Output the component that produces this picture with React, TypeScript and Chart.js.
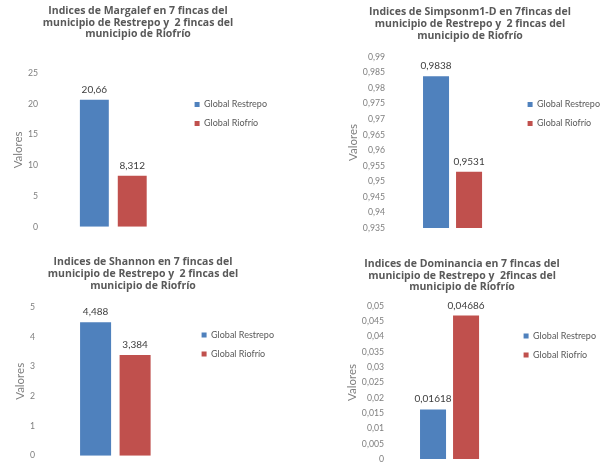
import React, { useEffect, useRef } from 'react';
import { Chart, registerables } from 'chart.js';

Chart.register(...registerables);

// ---------- data ----------
const seriesNames = ['Global Restrepo', 'Global Riofrío'];
const seriesColors = ['#4F81BD', '#C0504D'];
const yAxisTitle = 'Valores';

const margalefTitle = ['Indices de Margalef en 7 fincas del', 'municipio de Restrepo y  2 fincas del', 'municipio de Riofrío'];
const margalefValues = [20.66, 8.312];
const margalefTicks = [0, 25, 5]; // min, max, step

const simpsonTitle = ['Indices de Simpsonm1-D en 7fincas del', 'municipio de Restrepo y  2 fincas del', 'municipio de Riofrío'];
const simpsonValues = [0.9838, 0.9531];
const simpsonTicks = [0.935, 0.99, 0.005];

const shannonTitle = ['Indices de Shannon en 7 fincas del', 'municipio de Restrepo y  2 fincas del', 'municipio de Riofrío'];
const shannonValues = [4.488, 3.384];
const shannonTicks = [0, 5, 1];

const dominanciaTitle = ['Indices de Dominancia en 7 fincas del', 'municipio de Restrepo y  2fincas del', 'municipio de Riofrío'];
const dominanciaValues = [0.01618, 0.04686];
const dominanciaTicks = [0, 0.05, 0.005];

// ---------- layout targets (page px) ----------
const FONT = 'Lato';
const TITLE_FONT = 'Open Sans';
const titleSize = 10.5;
const titleLH = 1.105;
const legendSize = 9;
const tickSize = 8.7;
const valoresSize = 11.5;
const labelSize = 10;
const boxW = 5;

const panels = [
  { title: margalefTitle, values: margalefValues, ticks: margalefTicks, T: 138, barCenter: 113.5, slot: 38, barW: 29, textStart: 204.5, tickRight: 38, valX: 18, line1: 11, top: 73, bottom: 228, regionTop: 0 },
  { title: simpsonTitle, values: simpsonValues, ticks: simpsonTicks, T: 470, barCenter: 452.5, slot: 33, barW: 26, textStart: 537, tickRight: 385, valX: 353.5, line1: 12.5, top: 57, bottom: 228, regionTop: 0 },
  { title: shannonTitle, values: shannonValues, ticks: shannonTicks, T: 143, barCenter: 115.3, slot: 39.5, barW: 31, textStart: 211, tickRight: 35, valX: 20, line1: 262.5, top: 307, bottom: 457, regionTop: 232 },
  { title: dominanciaTitle, values: dominanciaValues, ticks: dominanciaTicks, T: 462, barCenter: 449.5, slot: 33, barW: 26, textStart: 533, tickRight: 384, valX: 352, line1: 264, top: 306, bottom: 459, regionTop: 232 },
];

const fmt = (v: number) => String(Number(v.toFixed(5))).replace('.', ',');

const valueLabelPlugin = {
  id: 'valueLabels',
  afterDatasetsDraw(chart: any) {
    const ctx = chart.ctx;
    ctx.save();
    ctx.font = `normal ${labelSize}px ${FONT}`;
    ctx.fillStyle = '#404040';
    ctx.textAlign = 'center';
    ctx.textBaseline = 'alphabetic';
    chart.data.datasets.forEach((ds: any, i: number) => {
      const meta = chart.getDatasetMeta(i);
      meta.data.forEach((el: any, j: number) => {
        ctx.fillText(fmt(ds.data[j]), el.x, el.y - 7);
      });
    });
    ctx.restore();
  },
};

export default function App() {
  const canvasRefs = useRef<(HTMLCanvasElement | null)[]>([]);

  useEffect(() => {
    const charts: Chart[] = [];
    const mctx = document.createElement('canvas').getContext('2d')!;
    mctx.font = `normal ${legendSize}px ${FONT}`;
    const tw = Math.max(...seriesNames.map((s) => mctx.measureText(s).width));

    panels.forEach((p, i) => {
      const canvas = canvasRefs.current[i];
      if (!canvas) return;
      const pad = 19 - legendSize;
      const R = p.textStart - pad - boxW - legendSize / 2;
      const L = 2 * p.barCenter - R;
      const tickPad = Math.max(0, L - p.tickRight);
      const legendW = pad + boxW + legendSize / 2 + tw + 10;
      const c = Math.round(2 * p.T - (R + legendW));
      const W = Math.round(R + legendW - c);
      const yWidth = L - c;
      const lhV = valoresSize * 1.2;
      const valPad = Math.max(0, p.valX - c - lhV / 2);
      const t = p.regionTop;
      const lhT = titleSize * titleLH;
      const tPadTop = p.line1 - t - lhT / 2;
      const tPadBottom = p.top - t - tPadTop - 3 * lhT;
      const H = Math.round(p.bottom - t + 8);
      const catPct = (2 * p.slot) / (R - L);
      const barPct = p.barW / p.slot;

      canvas.width = W;
      canvas.height = H;
      canvas.style.left = c + 'px';
      canvas.style.top = t + 'px';
      canvas.style.width = W + 'px';
      canvas.style.height = H + 'px';

      const [yMin, yMax, yStep] = p.ticks;

      charts.push(
        new Chart(canvas, {
          type: 'bar',
          data: {
            labels: [''],
            datasets: seriesNames.map((name, k) => ({
              label: name,
              data: [p.values[k]],
              backgroundColor: seriesColors[k],
              borderWidth: 0,
              base: yMin,
              clip: 0,
              categoryPercentage: catPct,
              barPercentage: barPct,
            })),
          },
          options: {
            responsive: false,
            animation: false,
            layout: { padding: { left: 0, right: 0, top: 0, bottom: 8 } },
            plugins: {
              title: {
                display: true,
                text: p.title,
                color: '#595959',
                font: { family: TITLE_FONT, weight: 'bold', size: titleSize, lineHeight: titleLH },
                padding: { top: tPadTop, bottom: tPadBottom },
              },
              legend: {
                display: true,
                position: 'right',
                maxWidth: 400,
                labels: {
                  boxWidth: boxW,
                  boxHeight: boxW,
                  padding: pad,
                  color: '#595959',
                  font: { family: FONT, size: legendSize },
                },
              },
              tooltip: { enabled: false },
            },
            scales: {
              x: { display: false },
              y: {
                min: yMin,
                max: yMax,
                grid: { display: false, drawTicks: false },
                border: { display: false },
                ticks: {
                  stepSize: yStep,
                  padding: tickPad,
                  color: '#7F7F7F',
                  font: { family: FONT, size: tickSize },
                  callback: (v: any) => fmt(Number(v)),
                },
                title: {
                  display: true,
                  text: yAxisTitle,
                  color: '#7F7F7F',
                  font: { family: FONT, size: valoresSize, lineHeight: 1.2 },
                  padding: { top: valPad, bottom: 0 },
                },
                afterFit: (scale: any) => {
                  scale.width = yWidth;
                },
              },
            },
          },
          plugins: [valueLabelPlugin],
        } as any)
      );
    });

    return () => charts.forEach((ch) => ch.destroy());
  }, []);

  return (
    <div style={{ position: 'absolute', left: 0, top: 0, width: 602, height: 464, overflow: 'hidden', background: '#fff' }}>
      {panels.map((_, i) => (
        <canvas key={i} ref={(el) => { canvasRefs.current[i] = el; }} style={{ position: 'absolute' }} />
      ))}
    </div>
  );
}
